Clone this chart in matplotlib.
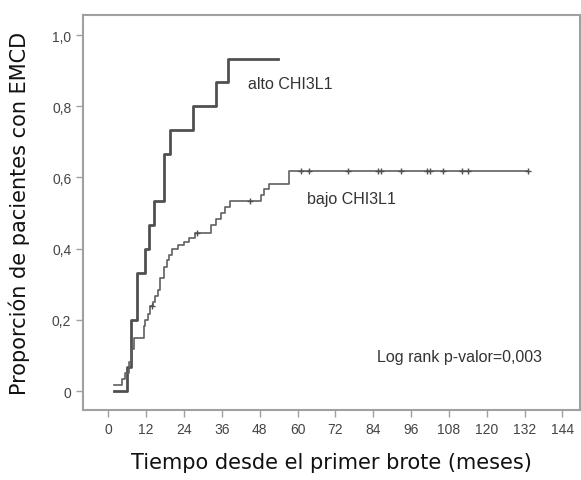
import matplotlib
matplotlib.use("Agg")
import matplotlib.pyplot as plt

# Kaplan-Meier style cumulative incidence
alto_t = [1.7, 6.0, 7.3, 9.1, 11.7, 12.8, 14.4, 17.6, 19.7, 26.7, 34.0, 37.8, 53.7]
alto_y = [0.0, 0.067, 0.200, 0.333, 0.400, 0.467, 0.533, 0.667, 0.733, 0.800, 0.867, 0.933, 0.933]

bajo_t = [1.7, 4.3, 5.4, 6.5, 7.5, 8.3, 11.2, 11.7, 12.5, 13.3, 14.1, 14.9, 15.7, 16.5,
          17.6, 18.6, 19.3, 20.2, 22.0, 23.9, 25.5, 27.6, 32.4, 34.0, 35.6, 37.0, 38.7,
          48.3, 49.3, 50.9, 57.2, 133.0]
bajo_y = [0.017, 0.033, 0.050, 0.083, 0.117, 0.150, 0.183, 0.200, 0.217, 0.240, 0.250,
          0.267, 0.283, 0.317, 0.350, 0.367, 0.383, 0.400, 0.410, 0.420, 0.430, 0.444,
          0.467, 0.483, 0.500, 0.517, 0.533, 0.550, 0.567, 0.583, 0.617, 0.617]

# censored observations on the bajo curve
cens_t = [13.9, 28.0, 45.0, 61.0, 63.5, 76.0, 85.4, 86.3, 92.7, 101.0, 102.0, 106.0,
          112.0, 114.0, 133.0]
cens_y = [0.240, 0.444, 0.533, 0.617, 0.617, 0.617, 0.617, 0.617, 0.617, 0.617, 0.617,
          0.617, 0.617, 0.617, 0.617]

x_ticks = [0, 12, 24, 36, 48, 60, 72, 84, 96, 108, 120, 132, 144]
y_ticks = [0, 0.2, 0.4, 0.6, 0.8, 1.0]
y_labels = ["0", "0,2", "0,4", "0,6", "0,8", "1,0"]

fig = plt.figure(figsize=(5.81, 4.81), dpi=100)
ax = fig.add_axes([0.143, 0.1455, 0.855, 0.821])

ax.step(alto_t, alto_y, where="post", color="#505050", lw=2.0)
ax.step(bajo_t, bajo_y, where="post", color="#606060", lw=1.2)
ax.plot(cens_t, cens_y, ls="none", marker="+", ms=4, mew=1.0, color="#505050")

txt = dict(fontsize=11.5, family="Liberation Sans", color="#333333", va="center")
ax.text(44.4, 0.865, "alto CHI3L1", **txt)
ax.text(62.9, 0.54, "bajo CHI3L1", **txt)
ax.text(85.3, 0.098, "Log rank p-valor=0,003", **txt)

ax.set_xlim(-8, 149.5)
ax.set_ylim(-0.053, 1.056)
ax.set_xticks(x_ticks)
ax.set_yticks(y_ticks)
ax.set_yticklabels(y_labels)

for s in ax.spines.values():
    s.set_color("#a0a0a0")
    s.set_linewidth(1.5)
ax.tick_params(direction="out", length=5, width=1, color="#a0a0a0",
               labelcolor="#444444", labelsize=10)
for lab in ax.get_xticklabels() + ax.get_yticklabels():
    lab.set_family("Liberation Sans")

ax.set_xlabel("Tiempo desde el primer brote (meses)", fontsize=15, color="#111111",
              labelpad=12)
ax.set_ylabel("Proporción de pacientes con EMCD", fontsize=15, color="#111111",
              labelpad=16)

fig.savefig("out.png", dpi=100)
